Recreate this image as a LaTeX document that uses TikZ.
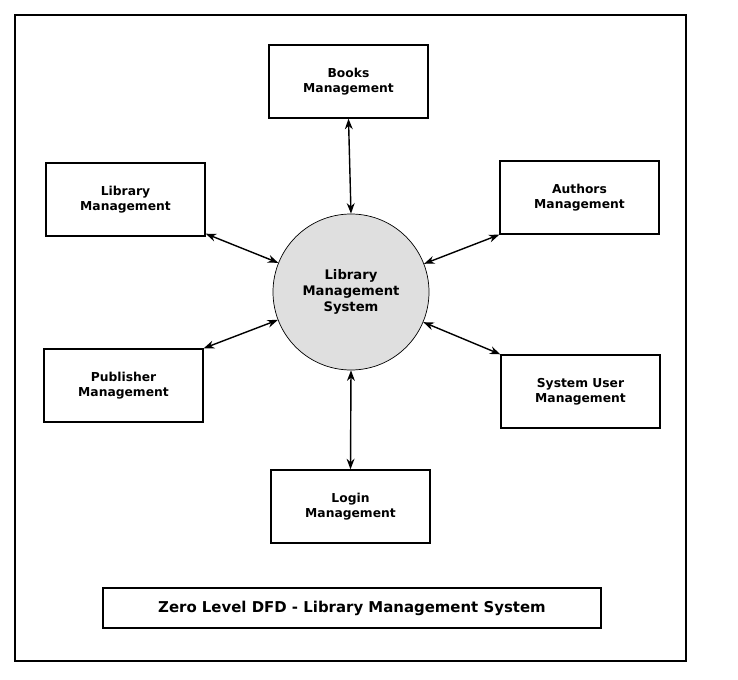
\documentclass[tikz,border=0pt]{standalone}
\usepackage{fontspec}
\setmainfont{DejaVu Sans}
\usetikzlibrary{arrows.meta}
\tikzset{
    procbox/.style={
        rectangle,
        draw,
        thick,
        minimum width=159*0.02cm,
        minimum height=73*0.02cm,
        align=center,
        font=\bfseries\fontsize{7}{8.5}\selectfont
    },
    centernode/.style={
        circle,
        draw,
        fill=gray!25,
        minimum size=156*0.02cm,
        inner sep=0,
        align=center,
        font=\bfseries\fontsize{7.5}{9}\selectfont
    },
    flow/.style={thick, {Stealth[length=6pt]}-{Stealth[length=6pt]}}
}
\begin{document}
\begin{tikzpicture}[x=0.02cm, y=-0.02cm]
    \useasboundingbox (0,0) rectangle (738,680);
    \draw[thick] (15,15) rectangle (686,661);
    % centre process
    \node[centernode] (sys) at (351,292) {Library\\Management\\System};
    % external entities
    \node[procbox] (books) at (348.5,81.5) {Books\\Management};
    \node[procbox] (lib) at (125.5,199.5) {Library\\Management};
    \node[procbox] (auth) at (579.5,197.5) {Authors\\Management};
    \node[procbox] (pub) at (123.5,385.5) {Publisher\\Management};
    \node[procbox] (sysu) at (580.5,391.5) {System User\\Management};
    \node[procbox] (login) at (350.5,506.5) {Login\\Management};
    \node[draw, thick, minimum width=498*0.02cm, minimum height=40*0.02cm,
          font=\bfseries\fontsize{8.5}{10}\selectfont] (title) at (352,608)
          {Zero Level DFD - Library Management System};
    % data flows
    \draw[flow] (books.south) -- (sys.north);
    \draw[flow] ([yshift=3*0.02cm]lib.south east) -- (sys);
    \draw[flow] (auth.south west) -- (sys);
    \draw[flow] (pub.north east) -- (sys);
    \draw[flow] (sysu.north west) -- (sys);
    \draw[flow] (login.north) -- (sys.south);
\end{tikzpicture}
\end{document}
